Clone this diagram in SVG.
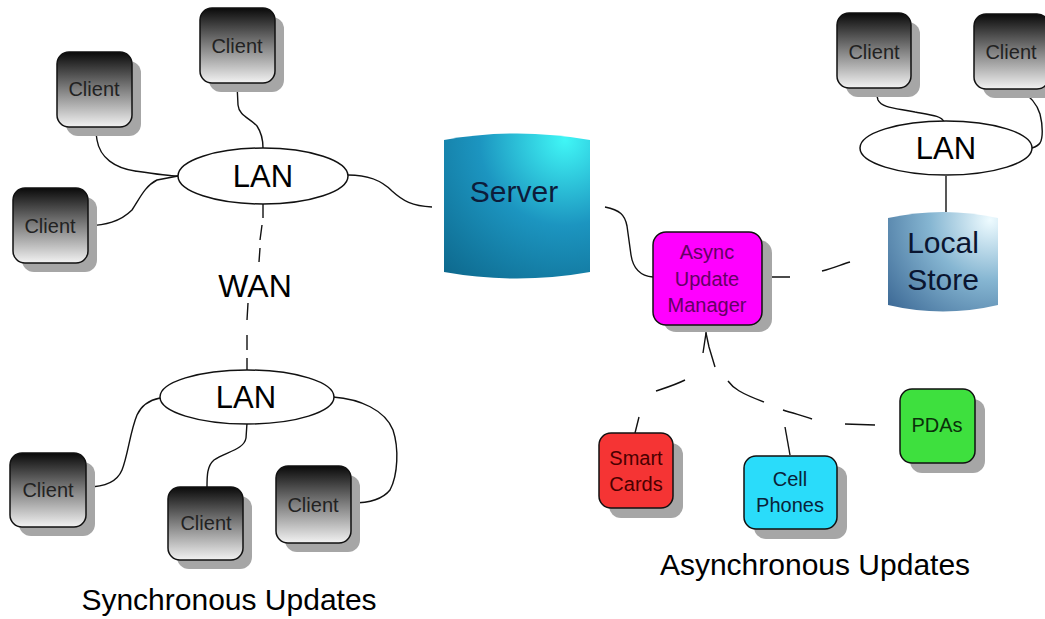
<svg xmlns="http://www.w3.org/2000/svg" width="1045" height="619" viewBox="0 0 1045 619">
<defs>
<linearGradient id="gClient" x1="0" y1="0" x2="0" y2="1">
<stop offset="0" stop-color="#0a0a0a"/>
<stop offset="0.5" stop-color="#808080"/>
<stop offset="1" stop-color="#f2f2f2"/>
</linearGradient>
<radialGradient id="gServer" gradientUnits="userSpaceOnUse" cx="565" cy="140" r="190">
<stop offset="0" stop-color="#40f6f6"/>
<stop offset="0.45" stop-color="#1c95c0"/>
<stop offset="1" stop-color="#0c6488"/>
</radialGradient>
<radialGradient id="gStore" gradientUnits="userSpaceOnUse" cx="990" cy="220" r="150">
<stop offset="0" stop-color="#eefbff"/>
<stop offset="0.4" stop-color="#86b6d2"/>
<stop offset="1" stop-color="#2c5888"/>
</radialGradient>
<style>
.sh{fill:#a6a6a6}
.cl{fill:url(#gClient);stroke:#111;stroke-width:1.5}
.dev{stroke:#111;stroke-width:1.5}
.t{font-family:"Liberation Sans",Arial,sans-serif;text-anchor:middle}
.ct{font-size:20px;fill:#222}
.lan{fill:#fff;stroke:#111;stroke-width:1.5}
.lt{font-size:31px;fill:#000}
.c{fill:none;stroke:#111;stroke-width:1.4}
</style>
</defs>
<rect width="1045" height="619" fill="#fff"/>

<g id="connectors">
<path class="c" d="M237,84 L238,105 C239,116 250,118 257,126 C261,132 263,140 263,148"/>
<path class="c" d="M95,126 L97,140 C100,158 115,168 135,171 C155,174 168,176 178,176"/>
<path class="c" d="M88,226 C105,225 120,222 132,210 C140,198 145,186 157,180 L178,176"/>
<path class="c" d="M348,175 C368,175 381,180 392,191 C403,201 412,206 432,207"/>
<path class="c" d="M263,204 L263,218 M262,225 L260,240 M260,248 L259,262 M248,303 L247,320 M247,335 L247,350 M247,358 L247,370"/>
<path class="c" d="M160,398 C150,400 142,404 137,415 C130,432 128,455 122,470 C117,482 105,487 87,487"/>
<path class="c" d="M247,423 L246,438 C244,450 225,452 214,460 C207,466 207,476 207,487"/>
<path class="c" d="M333,397 C360,399 385,410 393,430 C399,448 398,475 390,490 C382,500 368,503 352,503"/>
<path class="c" d="M605,207 C620,210 625,215 627,226 L631,255 C633,268 640,276 653,277"/>
<path class="c" d="M762,277 L790,277 M822,271 C835,268 842,264 850,262"/>
<path class="c" d="M875,88 L878,100 C882,108 895,108 915,112 C932,115 942,116 944,122"/>
<path class="c" d="M1020,90 C1030,96 1037,104 1040,114 C1043,126 1043,138 1040,143 C1038,146 1035,147 1032,148"/>
<path class="c" d="M946,176 L946,212"/>
<path class="c" d="M706,325 L706,333 L703,353 M685,380 C675,385 665,388 656,391 M639,417 L635,433"/>
<path class="c" d="M706,333 L709,347 L715,367 M728,381 C733,388 740,393 764,402 M783,410 C795,414 805,416 812,419 M845,424 L875,425"/>
<path class="c" d="M785,427 L790,455"/>
</g>

<g id="client-top"><rect class="sh" x="209" y="17" width="75" height="75" rx="12"/><rect class="cl" x="200" y="8" width="75" height="75" rx="12"/><text class="t ct" x="237" y="53">Client</text></g>
<g id="client-left-upper"><rect class="sh" x="66" y="61" width="75" height="75" rx="12"/><rect class="cl" x="57" y="52" width="75" height="75" rx="12"/><text class="t ct" x="94" y="96">Client</text></g>
<g id="client-left"><rect class="sh" x="22" y="197" width="75" height="75" rx="12"/><rect class="cl" x="13" y="188" width="75" height="75" rx="12"/><text class="t ct" x="50" y="233">Client</text></g>
<g id="lan-top"><ellipse class="lan" cx="263" cy="176" rx="85" ry="28"/><text class="t lt" x="263" y="187">LAN</text></g>
<text id="wan-label" class="t" x="255" y="297" style="font-size:32px">WAN</text>
<g id="lan-bottom"><ellipse class="lan" cx="247" cy="397" rx="87" ry="27"/><text class="t lt" x="246" y="408">LAN</text></g>
<g id="client-bl"><rect class="sh" x="19" y="462" width="76" height="74" rx="12"/><rect class="cl" x="10" y="453" width="76" height="74" rx="12"/><text class="t ct" x="48" y="497">Client</text></g>
<g id="client-bm"><rect class="sh" x="177" y="496" width="75" height="73" rx="12"/><rect class="cl" x="168" y="487" width="75" height="73" rx="12"/><text class="t ct" x="206" y="530">Client</text></g>
<g id="client-br"><rect class="sh" x="285" y="475" width="75" height="77" rx="12"/><rect class="cl" x="276" y="466" width="75" height="77" rx="12"/><text class="t ct" x="313" y="512">Client</text></g>
<text id="sync-label" class="t" x="229" y="610" style="font-size:30px">Synchronous Updates</text>

<g id="server"><path d="M444,140 Q517,127 590,140 L590,272 Q517,285 444,272 Z" fill="url(#gServer)"/><text class="t" x="514" y="202" style="font-size:30px;fill:#0d1c3a">Server</text></g>

<g id="async-manager"><rect class="sh" x="663" y="240" width="109" height="92" rx="13"/><rect class="dev" x="653" y="232" width="109" height="93" rx="13" fill="#ff00ff"/>
<text class="t" x="707" y="259" style="font-size:20px;fill:#650065">Async</text>
<text class="t" x="707" y="286" style="font-size:20px;fill:#650065">Update</text>
<text class="t" x="707" y="312" style="font-size:20px;fill:#650065">Manager</text></g>

<g id="client-r1"><rect class="sh" x="846" y="22" width="74" height="75" rx="12"/><rect class="cl" x="837" y="13" width="74" height="75" rx="12"/><text class="t ct" x="874" y="59">Client</text></g>
<g id="client-r2"><rect class="sh" x="983" y="23" width="75" height="75" rx="12"/><rect class="cl" x="974" y="14" width="75" height="75" rx="12"/><text class="t ct" x="1011" y="59">Client</text></g>
<g id="lan-right"><ellipse class="lan" cx="946" cy="148" rx="86" ry="27"/><text class="t lt" x="946" y="159">LAN</text></g>
<g id="local-store"><path d="M888,218 Q943,206 998,218 L998,305 Q943,318 888,305 Z" fill="url(#gStore)"/>
<text class="t" x="943" y="253" style="font-size:30px;fill:#0a1530">Local</text>
<text class="t" x="943" y="290" style="font-size:30px;fill:#0a1530">Store</text></g>

<g id="smart-cards"><rect class="sh" x="609" y="443" width="74" height="75" rx="12"/><rect class="dev" x="599" y="433" width="74" height="75" rx="12" fill="#f53434"/>
<text class="t" x="636" y="465" style="font-size:20px;fill:#4a0000">Smart</text>
<text class="t" x="636" y="491" style="font-size:20px;fill:#4a0000">Cards</text></g>
<g id="cell-phones"><rect class="sh" x="754" y="466" width="93" height="73" rx="12"/><rect class="dev" x="744" y="456" width="93" height="73" rx="12" fill="#2adcfa"/>
<text class="t" x="790" y="486" style="font-size:20px;fill:#0a2238">Cell</text>
<text class="t" x="790" y="512" style="font-size:20px;fill:#0a2238">Phones</text></g>
<g id="pdas"><rect class="sh" x="910" y="399" width="75" height="74" rx="12"/><rect class="dev" x="900" y="389" width="75" height="74" rx="12" fill="#3ee03e"/>
<text class="t" x="937" y="432" style="font-size:20px;fill:#0a300a">PDAs</text></g>
<text id="async-label" class="t" x="815" y="575" style="font-size:30px">Asynchronous Updates</text>
</svg>
